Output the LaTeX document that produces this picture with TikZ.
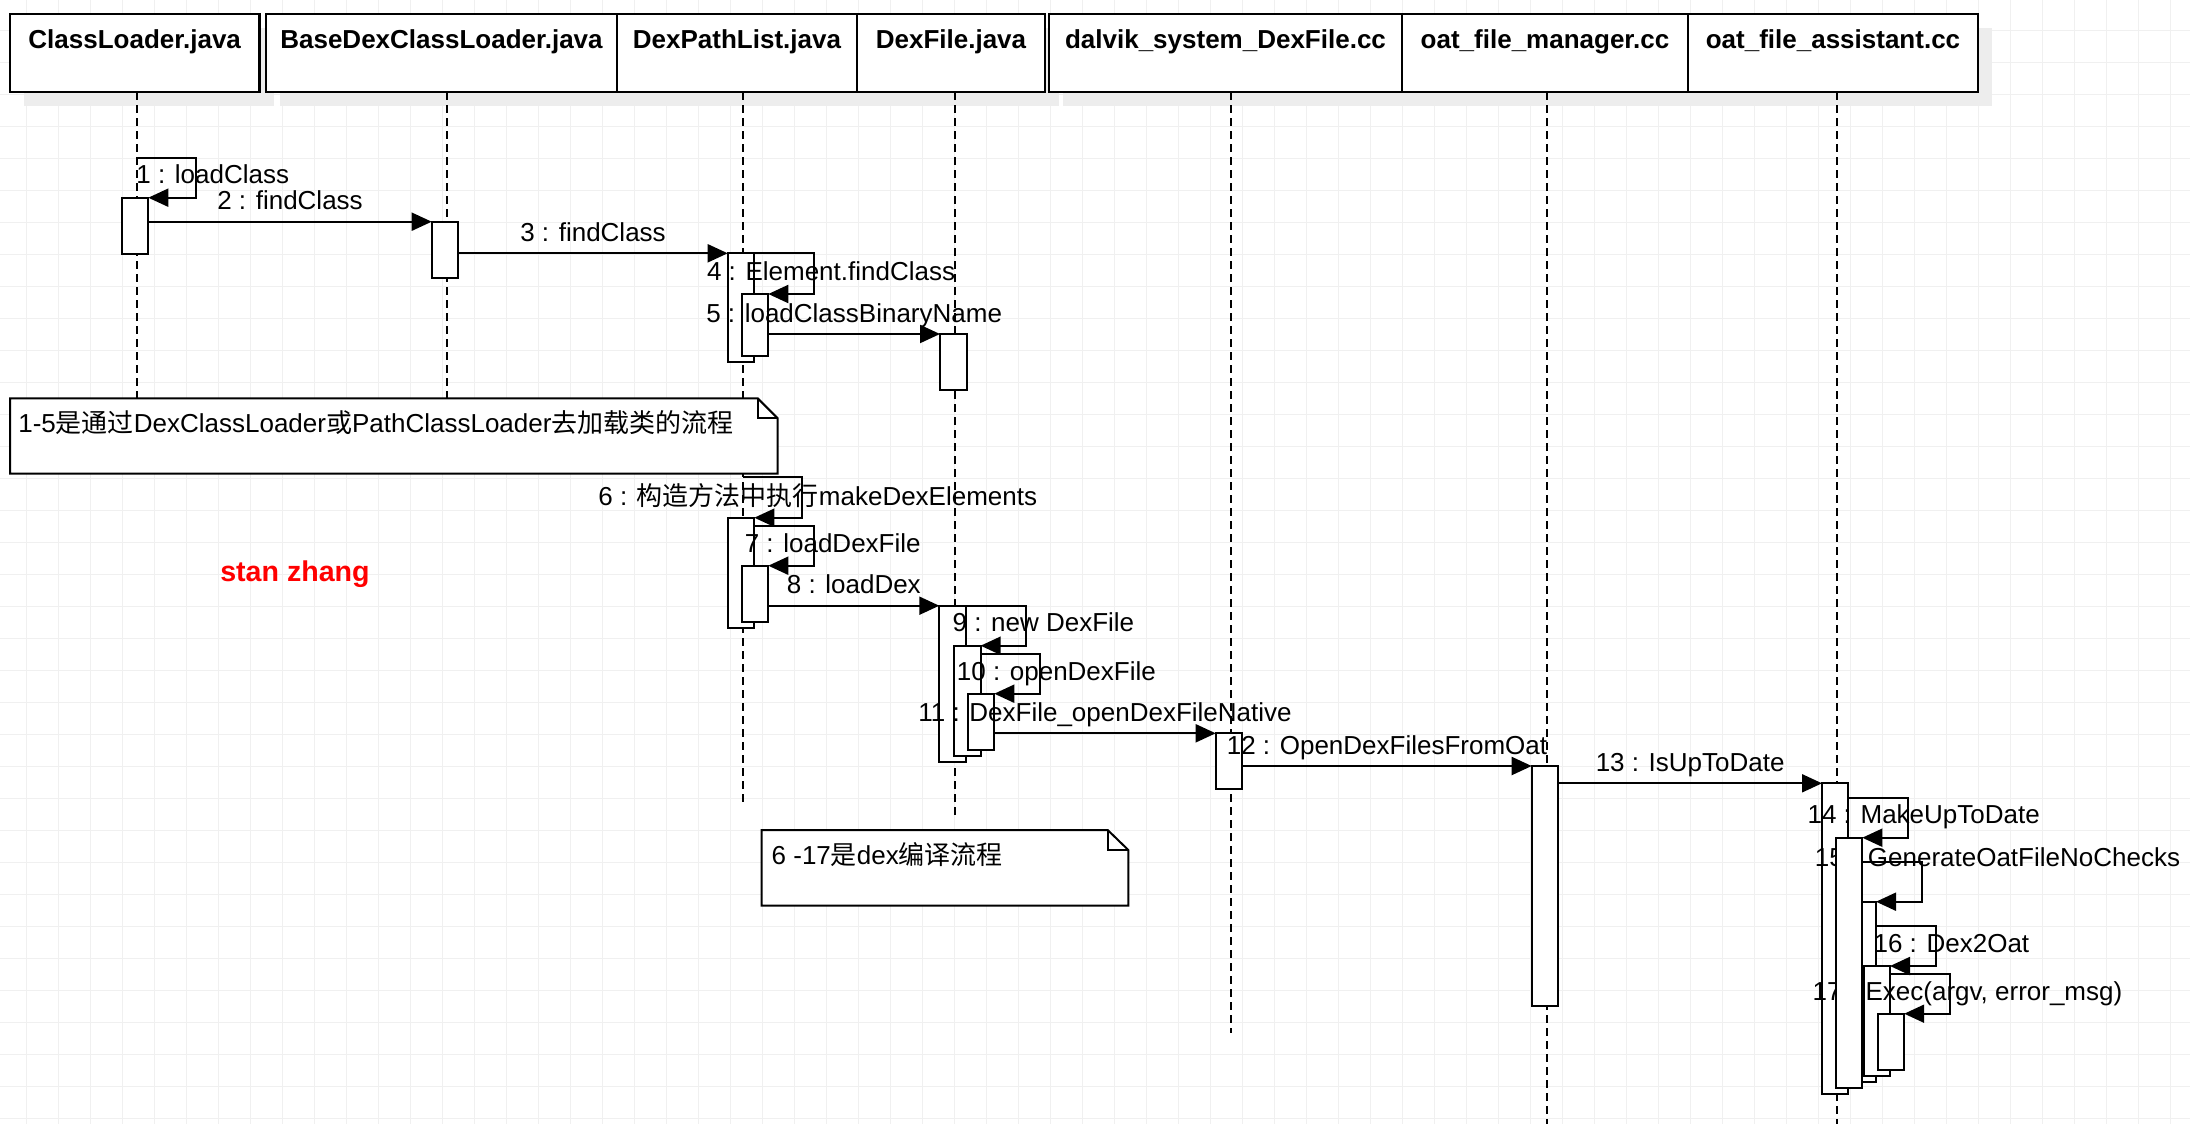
\documentclass[tikz,border=0pt]{standalone}
\usepackage{fontspec}
\setmainfont{Liberation Sans}
\newfontfamily\cjk{Noto Sans CJK SC}
\usetikzlibrary{arrows.meta,fit}
\begin{document}
\begin{tikzpicture}[x=0.5pt,y=-0.5pt,
  gridln/.style={draw=black!6, line width=0.5pt},
  hshadow/.style={fill=black!7, draw=none},
  hdr/.style={draw=black, line width=1.2pt, fill=white, inner sep=0pt, outer sep=0pt},
  hdrtext/.style={font=\bfseries\fontsize{13pt}{15pt}\selectfont, inner sep=0pt, text height=9.36pt, text depth=2.73pt},
  life/.style={draw=black, line width=1pt, dash pattern=on 4pt off 2.5pt},
  act/.style={draw=black, line width=1pt, fill=white, inner sep=0pt, outer sep=0pt},
  msg/.style={draw=black, line width=1pt, -{Triangle[length=10pt,width=9pt]}},
  lbl/.style={font=\fontsize{13pt}{15pt}\selectfont, inner sep=0pt, text height=9.36pt, text depth=2.73pt},
  selflbl/.style={lbl, anchor=west},
  msglbl/.style={lbl, midway, yshift=9.3pt},
  notebox/.style={draw=black, line width=1pt, fill=white},
  notefold/.style={draw=black, line width=1pt},
  wmark/.style={font=\bfseries\fontsize{14.3pt}{17pt}\selectfont, text=red, inner sep=0pt, text height=10.3pt, text depth=3pt}
]
\useasboundingbox (0,0) rectangle (2190,1124);
\fill[white] (0,0) rectangle (2190,1124);
% grid
\foreach \i in {0,...,67} \draw[gridln] ({26.7+32*\i},0) -- ({26.7+32*\i},1124);
\foreach \j in {0,...,34} \draw[gridln] (0,{30.3+32*\j}) -- (2190,{30.3+32*\j});

% header shadows
\foreach \a/\b in {9.8/259.6, 266/617, 617/857, 857/1045, 1049/1402, 1402/1688, 1688/1978}
  \fill[hshadow] ({\a+14},28) rectangle ({\b+14},106);

% header boxes
\node[hdr, fit={(9.8,14)(259.6,92)}] (h1) {};
\node[hdr, fit={(266,14)(617,92)}] (h2) {};
\node[hdr, fit={(617,14)(857,92)}] (h3) {};
\node[hdr, fit={(857,14)(1045,92)}] (h4) {};
\node[hdr, fit={(1049,14)(1402,92)}] (h5) {};
\node[hdr, fit={(1402,14)(1688,92)}] (h6) {};
\node[hdr, fit={(1688,14)(1978,92)}] (h7) {};
\node[hdrtext] (t1) at (h1.center |- 0,41.5) {ClassLoader.java};
\node[hdrtext] (t2) at (h2.center |- 0,41.5) {BaseDexClassLoader.java};
\node[hdrtext] (t3) at (h3.center |- 0,41.5) {DexPathList.java};
\node[hdrtext] (t4) at (h4.center |- 0,41.5) {DexFile.java};
\node[hdrtext] (t5) at (h5.center |- 0,41.5) {dalvik\_system\_DexFile.cc};
\node[hdrtext] (t6) at (h6.center |- 0,41.5) {oat\_file\_manager.cc};
\node[hdrtext] (t7) at (h7.center |- 0,41.5) {oat\_file\_assistant.cc};

% lifelines
\coordinate (e1) at (136.7,400);
\coordinate (e2) at (447,400);
\coordinate (e3) at (743,806.7);
\coordinate (e4) at (955,816.7);
\coordinate (e5) at (1231,1033.3);
\coordinate (e6) at (1546.7,1124);
\coordinate (e7) at (1836.7,1124);
\draw[life] (h1.south -| e1) -- (e1);
\draw[life] (h2.south -| e2) -- (e2);
\draw[life] (h3.south -| e3) -- (e3);
\draw[life] (h4.south -| e4) -- (e4);
\draw[life] (h5.south -| e5) -- (e5);
\draw[life] (h6.south -| e6) -- (e6);
\draw[life] (h7.south -| e7) -- (e7);

% notes
\draw[notebox] (10,398.3) -- (757.7,398.3) -- (777.7,418.3) -- (777.7,473.7) -- (10,473.7) -- cycle;
\draw[notefold] (757.7,398.3) -- (757.7,418.3) -- (777.7,418.3);
\node[selflbl] (n1) at (17.9,426) {1-5{\cjk 是通过}DexClassLoader{\cjk 或}PathClassLoader{\cjk 去加载类的流程}};
\draw[notebox] (761.7,830) -- (1107.7,830) -- (1128.3,850) -- (1128.3,905.7) -- (761.7,905.7) -- cycle;
\draw[notefold] (1107.7,830) -- (1107.7,850) -- (1128.3,850);
\node[selflbl] (n2) at (771.3,857.4) {6 -17{\cjk 是}dex{\cjk 编译流程}};

% watermark
\node[wmark] (sz) at (295,574.4) {stan zhang};

% activation boxes
\node[act, fit={(121.7,197.7)(148.3,254)}] (a1) {};
\node[act, fit={(431.7,221.7)(458.3,277.7)}] (b1) {};
\node[act, fit={(727.7,253.3)(754.3,362)}] (A1) {};
\node[act, fit={(741.7,294)(768.3,355.7)}] (A2) {};
\node[act, fit={(940,334)(966.6,390)}] (X1) {};
\node[act, fit={(727.7,517.7)(754.3,628.3)}] (B1) {};
\node[act, fit={(741.7,565.7)(768.3,621.7)}] (B2) {};
\node[act, fit={(939.3,605.7)(966,761.7)}] (C1) {};
\node[act, fit={(954,645.7)(980.6,756)}] (C2) {};
\node[act, fit={(967.7,693.7)(994.3,750)}] (C3) {};
\node[act, fit={(1215.7,733.3)(1242.3,789.3)}] (D) {};
\node[act, fit={(1531.7,766)(1558.3,1005.7)}] (E) {};
\node[act, fit={(1822,783.3)(1848.4,1094)}] (F1) {};
\node[act, fit={(1849.4,901.7)(1876,1082.3)}] (F3) {};
\node[act, fit={(1863.8,966)(1890,1076)}] (F4) {};
\node[act, fit={(1877.7,1013.7)(1904.2,1070)}] (F5) {};
\node[selflbl] (l15) at (1814.5,859.4) {15 : GenerateOatFileNoChecks};
\node[selflbl] (l17) at (1812.2,993.4) {17 : Exec(argv, error\_msg)};
\node[act, fit={(1835.7,837.7)(1862.3,1088)}] (F2) {};

% messages
\coordinate (m1s) at (136.7,157.7);
\draw[msg] (m1s) -- ++(59.3,0) |- (a1.north east);
\node[selflbl] (l1) at (136,177) {1 : loadClass};
\draw[msg] (a1.east |- b1.north) -- (b1.north west) node[msglbl] (l2) {2 : findClass};
\draw[msg] (b1.east |- A1.north) -- (A1.north west) node[msglbl] (l3) {3 : findClass};
\draw[msg] (A1.north east) -- ++(59.4,0) |- (A2.north east);
\node[selflbl] (l4) at (706.6,273.4) {4 : Element.findClass};
\draw[msg] (A2.east |- X1.north) -- (X1.north west) node[msglbl] (l5) {5 : loadClassBinaryName};
\coordinate (m6s) at (742.7,477.3);
\draw[msg] (m6s) -- ++(59.3,0) |- (B1.north east);
\node[selflbl] (l6) at (598,498.4) {6 : {\cjk 构造方法中执行}makeDexElements};
\draw[msg] ([yshift=-4pt]B1.north east) -- ++(59.4,0) |- (B2.north east);
\node[selflbl] (l7) at (744.4,545.7) {7 : loadDexFile};
\draw[msg] (B2.east |- C1.north) -- (C1.north west) node[msglbl] (l8) {8 : loadDex};
\draw[msg] (C1.north east) -- ++(60,0) |- (C2.north east);
\node[selflbl] (l9) at (952.2,625) {9 : new DexFile};
\draw[msg] ([yshift=-4.15pt]C2.north east) -- ++(59.4,0) |- (C3.north east);
\node[selflbl] (l10) at (956.5,673.4) {10 : openDexFile};
\draw[msg] (C3.east |- D.north) -- (D.north west) node[msglbl] (l11) {11 : DexFile\_openDexFileNative};
\draw[msg] (D.east |- E.north) -- (E.north west) node[msglbl] (l12) {12 : OpenDexFilesFromOat};
\draw[msg] (E.east |- F1.north) -- (F1.north west) node[msglbl] (l13) {13 : IsUpToDate};
\draw[msg] ([yshift=-7.2pt]F1.north east) -- ++(60,0) |- (F2.north east);
\node[selflbl] (l14) at (1807.2,816.7) {14 : MakeUpToDate};
\draw[msg] ([yshift=-12.3pt]F2.north east) -- ++(60,0) |- (F3.north east);
\draw[msg] ([yshift=-12pt]F3.north east) -- ++(60,0) |- (F4.north east);
\node[selflbl] (l16) at (1873.2,945.7) {16 : Dex2Oat};
\draw[msg] ([yshift=-4pt]F4.north east) -- ++(60,0) |- (F5.north east);
\end{tikzpicture}
\end{document}
